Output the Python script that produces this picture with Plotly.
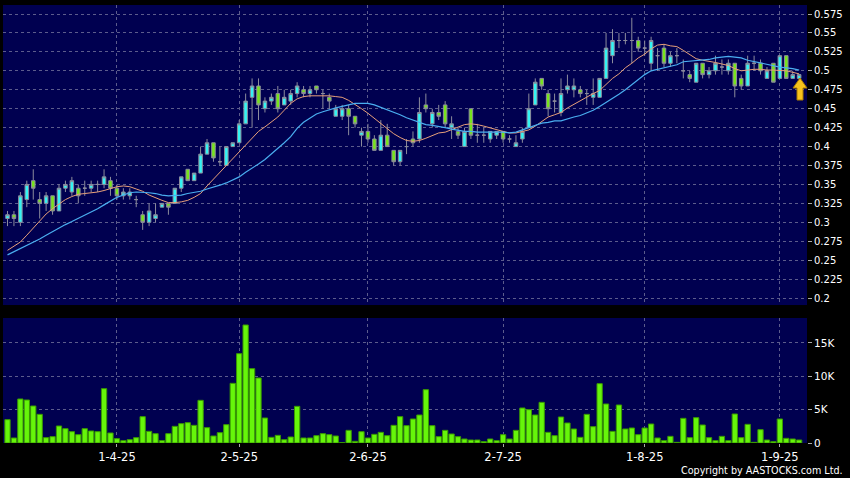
import pandas as pd
import plotly.graph_objects as go

# ---------------- data ----------------
holidays = ["2025-04-04", "2025-04-18", "2025-04-21", "2025-05-01", "2025-05-05", "2025-07-01"]
dates = [d.strftime("%Y-%m-%d") for d in pd.bdate_range("2025-03-07", "2025-09-04")
         if d.strftime("%Y-%m-%d") not in holidays]

opens = [0.305, 0.31, 0.30, 0.33, 0.355, 0.33, 0.325, 0.335, 0.315, 0.345,
         0.34, 0.345, 0.345, 0.345, 0.35, 0.35, 0.355, 0.345, 0.335, 0.335,
         0.33, 0.31, 0.30, 0.305, 0.32, 0.325, 0.325, 0.345, 0.37, 0.355,
         0.365, 0.39, 0.405, 0.38, 0.375, 0.40, 0.405, 0.43, 0.465, 0.48,
         0.45, 0.46, 0.47, 0.455, 0.46, 0.47, 0.475, 0.47, 0.48, 0.47,
         0.465, 0.44, 0.44, 0.45, 0.44, 0.415, 0.42, 0.41, 0.395, 0.415,
         0.395, 0.38, 0.40, 0.41, 0.41, 0.455, 0.43, 0.445, 0.455, 0.425,
         0.42, 0.40, 0.45, 0.415, 0.415, 0.41, 0.415, 0.42, 0.41, 0.40,
         0.41, 0.425, 0.455, 0.49, 0.47, 0.46, 0.445, 0.475, 0.475, 0.475,
         0.47, 0.465, 0.465, 0.49, 0.52, 0.54, 0.54, 0.54, 0.54, 0.53,
         0.51, 0.52, 0.53, 0.51, 0.52, 0.50, 0.495, 0.485, 0.51, 0.495,
         0.50, 0.505, 0.50, 0.51, 0.49, 0.48, 0.51, 0.51, 0.49, 0.51,
         0.49, 0.52, 0.49, 0.49]
highs = [0.315, 0.315, 0.34, 0.355, 0.37, 0.34, 0.34, 0.335, 0.35, 0.355,
         0.36, 0.35, 0.355, 0.355, 0.355, 0.37, 0.36, 0.35, 0.345, 0.345,
         0.335, 0.315, 0.325, 0.325, 0.325, 0.325, 0.345, 0.36, 0.37, 0.365,
         0.40, 0.41, 0.405, 0.40, 0.40, 0.405, 0.435, 0.47, 0.49, 0.49,
         0.465, 0.47, 0.48, 0.475, 0.475, 0.485, 0.48, 0.48, 0.48, 0.475,
         0.47, 0.455, 0.455, 0.455, 0.44, 0.425, 0.43, 0.415, 0.435, 0.43,
         0.395, 0.395, 0.41, 0.42, 0.465, 0.47, 0.45, 0.455, 0.46, 0.44,
         0.425, 0.425, 0.45, 0.43, 0.425, 0.42, 0.42, 0.42, 0.415, 0.415,
         0.425, 0.47, 0.49, 0.49, 0.475, 0.47, 0.49, 0.495, 0.49, 0.48,
         0.475, 0.49, 0.49, 0.55, 0.555, 0.55, 0.55, 0.57, 0.545, 0.54,
         0.545, 0.53, 0.535, 0.525, 0.53, 0.515, 0.50, 0.51, 0.51, 0.505,
         0.52, 0.515, 0.515, 0.51, 0.495, 0.52, 0.52, 0.515, 0.505, 0.51,
         0.52, 0.52, 0.50, 0.495]
lows = [0.295, 0.295, 0.295, 0.32, 0.33, 0.305, 0.315, 0.31, 0.315, 0.34,
        0.335, 0.325, 0.335, 0.34, 0.34, 0.345, 0.335, 0.33, 0.33, 0.33,
        0.32, 0.29, 0.295, 0.30, 0.32, 0.31, 0.325, 0.34, 0.355, 0.355,
        0.365, 0.39, 0.38, 0.375, 0.375, 0.40, 0.405, 0.43, 0.425, 0.435,
        0.445, 0.455, 0.445, 0.455, 0.455, 0.465, 0.465, 0.465, 0.47, 0.45,
        0.45, 0.44, 0.435, 0.415, 0.425, 0.40, 0.405, 0.395, 0.395, 0.40,
        0.375, 0.375, 0.39, 0.40, 0.405, 0.445, 0.425, 0.435, 0.425, 0.41,
        0.41, 0.40, 0.41, 0.405, 0.405, 0.405, 0.41, 0.405, 0.405, 0.40,
        0.405, 0.425, 0.455, 0.475, 0.44, 0.445, 0.44, 0.47, 0.465, 0.465,
        0.455, 0.455, 0.465, 0.49, 0.51, 0.53, 0.535, 0.51, 0.525, 0.52,
        0.50, 0.50, 0.505, 0.505, 0.51, 0.49, 0.485, 0.485, 0.49, 0.49,
        0.495, 0.495, 0.495, 0.465, 0.475, 0.48, 0.50, 0.495, 0.49, 0.485,
        0.49, 0.49, 0.49, 0.49]
closes = [0.31, 0.305, 0.335, 0.35, 0.345, 0.325, 0.335, 0.315, 0.345, 0.35,
          0.355, 0.335, 0.345, 0.35, 0.35, 0.36, 0.345, 0.335, 0.34, 0.34,
          0.33, 0.30, 0.315, 0.31, 0.325, 0.32, 0.345, 0.36, 0.355, 0.365,
          0.39, 0.405, 0.385, 0.38, 0.40, 0.405, 0.43, 0.46, 0.48, 0.455,
          0.46, 0.465, 0.45, 0.465, 0.47, 0.48, 0.47, 0.475, 0.475, 0.47,
          0.46, 0.45, 0.45, 0.44, 0.43, 0.42, 0.41, 0.395, 0.415, 0.40,
          0.38, 0.395, 0.40, 0.405, 0.445, 0.45, 0.445, 0.44, 0.43, 0.43,
          0.415, 0.42, 0.415, 0.415, 0.415, 0.42, 0.42, 0.41, 0.41, 0.405,
          0.42, 0.45, 0.485, 0.48, 0.45, 0.46, 0.47, 0.48, 0.48, 0.47,
          0.47, 0.47, 0.49, 0.53, 0.54, 0.54, 0.54, 0.54, 0.53, 0.53,
          0.54, 0.52, 0.51, 0.52, 0.52, 0.50, 0.49, 0.51, 0.495, 0.50,
          0.51, 0.505, 0.51, 0.48, 0.48, 0.51, 0.51, 0.50, 0.50, 0.485,
          0.52, 0.49, 0.495, 0.495]
volumes = [3500, 750, 6600, 6450, 5550, 4300, 800, 950, 2550, 2150,
           1700, 1250, 2150, 1800, 1700, 8150, 1500, 650, 350, 500,
           800, 3950, 1750, 1400, 350, 1400, 2500, 2900, 3050, 2650,
           6400, 2300, 1050, 1550, 2750, 8950, 13400, 17700, 11150, 9750,
           3750, 850, 1150, 500, 900, 5500, 750, 750, 1100, 1400,
           1250, 1050, 50, 1900, 250, 1700, 750, 1300, 1600, 1100,
           2650, 3950, 2600, 3600, 4200, 8000, 2600, 950, 1900, 1350,
           950, 600, 450, 450, 200, 600, 350, 1250, 600, 1900,
           5250, 5000, 4200, 6100, 1600, 1100, 3900, 3000, 2100, 850,
           4300, 2450, 8900, 5850, 1750, 5700, 2100, 2250, 1250, 2250,
           2850, 750, 350, 1000, 100, 3700, 800, 3800, 2700, 800,
           350, 1000, 350, 4350, 800, 2800, 100, 2000, 450, 200,
           3600, 700, 600, 450]
ma_fast = [0.263, 0.268, 0.274, 0.283, 0.292, 0.302, 0.311, 0.318, 0.324, 0.330,
           0.334, 0.337, 0.338, 0.339, 0.340, 0.342, 0.345, 0.347, 0.348, 0.347,
           0.344, 0.341, 0.336, 0.332, 0.329, 0.326, 0.326, 0.327, 0.329, 0.333,
           0.338, 0.348, 0.357, 0.366, 0.374, 0.383, 0.392, 0.401, 0.410, 0.420,
           0.426, 0.432, 0.439, 0.448, 0.457, 0.463, 0.466, 0.467, 0.467, 0.467,
           0.467, 0.466, 0.465, 0.461, 0.456, 0.450, 0.444, 0.437, 0.430, 0.424,
           0.417, 0.412, 0.408, 0.407, 0.408, 0.411, 0.415, 0.418, 0.419, 0.422,
           0.426, 0.429, 0.430, 0.429, 0.427, 0.425, 0.422, 0.420, 0.418, 0.418,
           0.420, 0.422, 0.427, 0.433, 0.439, 0.442, 0.445, 0.451, 0.456, 0.461,
           0.466, 0.470, 0.474, 0.482, 0.490, 0.496, 0.504, 0.510, 0.517, 0.522,
           0.529, 0.534, 0.535, 0.533, 0.532, 0.527, 0.521, 0.516, 0.514, 0.513,
           0.511, 0.509, 0.507, 0.503, 0.500, 0.501, 0.502, 0.502, 0.501, 0.501,
           0.500, 0.500, 0.498, 0.496]
ma_slow = [0.257, 0.261, 0.265, 0.269, 0.273, 0.278, 0.283, 0.288, 0.292, 0.297,
           0.301, 0.305, 0.309, 0.314, 0.318, 0.323, 0.328, 0.333, 0.336, 0.339,
           0.340, 0.340, 0.339, 0.338, 0.336, 0.335, 0.335, 0.336, 0.338, 0.339,
           0.341, 0.344, 0.346, 0.349, 0.352, 0.356, 0.360, 0.366, 0.371, 0.377,
           0.383, 0.390, 0.397, 0.405, 0.413, 0.424, 0.432, 0.438, 0.443, 0.446,
           0.449, 0.451, 0.453, 0.455, 0.457, 0.457, 0.457, 0.455, 0.452, 0.448,
           0.445, 0.442, 0.438, 0.435, 0.432, 0.429, 0.428, 0.427, 0.425, 0.423,
           0.421, 0.420, 0.420, 0.419, 0.419, 0.419, 0.419, 0.419, 0.418, 0.419,
           0.422, 0.425, 0.429, 0.431, 0.432, 0.434, 0.434, 0.437, 0.439, 0.441,
           0.444, 0.448, 0.453, 0.458, 0.463, 0.469, 0.475, 0.482, 0.489, 0.495,
           0.500, 0.502, 0.504, 0.505, 0.508, 0.512, 0.513, 0.514, 0.514, 0.515,
           0.517, 0.518, 0.519, 0.518, 0.517, 0.514, 0.512, 0.510, 0.508, 0.507,
           0.505, 0.504, 0.503, 0.501]

tick_dates = ["2025-04-01", "2025-05-02", "2025-06-02", "2025-07-02", "2025-08-01", "2025-09-01"]
tick_labels = ["1-4-25", "2-5-25", "2-6-25", "2-7-25", "1-8-25", "1-9-25"]
price_ticks = [0.2, 0.225, 0.25, 0.275, 0.3, 0.325, 0.35, 0.375, 0.4, 0.425,
               0.45, 0.475, 0.5, 0.525, 0.55, 0.575]
price_tick_labels = ["0.2", "0.225", "0.25", "0.275", "0.3", "0.325", "0.35", "0.375", "0.4",
                     "0.425", "0.45", "0.475", "0.5", "0.525", "0.55", "0.575"]
vol_ticks = [0, 5000, 10000, 15000]
vol_tick_labels = ["0", "5K", "10K", "15K"]

# ---------------- style ----------------
BG = "#000000"
PLOT_BG = "#000050"
GRID = "#5c5c8c"
TXT = "#ffffff"
FONT = "DejaVu Sans"

fig = go.Figure()
fig.add_trace(go.Candlestick(
    x=dates, open=opens, high=highs, low=lows, close=closes,
    xaxis="x", yaxis="y", whiskerwidth=0, showlegend=False, hoverinfo="skip",
    increasing=dict(fillcolor="#33f4f4", line=dict(color="#8c8c9c", width=1)),
    decreasing=dict(fillcolor="#77e41c", line=dict(color="#8c8c9c", width=1)),
))
fig.add_trace(go.Scatter(x=dates, y=ma_fast, mode="lines", xaxis="x", yaxis="y",
                         line=dict(color="#e8a07a", width=1), showlegend=False, hoverinfo="skip"))
fig.add_trace(go.Scatter(x=dates, y=ma_slow, mode="lines", xaxis="x", yaxis="y",
                         line=dict(color="#4aaef0", width=1.2), showlegend=False, hoverinfo="skip"))
fig.add_trace(go.Bar(x=dates, y=volumes, xaxis="x2", yaxis="y2", showlegend=False,
                     marker=dict(color="#66f50a", line=dict(color="#3a9a00", width=1)),
                     hoverinfo="skip"))

# current price arrow marker (decoration)
L, R = 3, 807
def px(xp):
    return (xp - L) / (R - L)
def py(yp):
    return 0.575 - (yp - 14) / 757.3
arrow = (f"M {px(800)} {py(78)} L {px(807)} {py(88)} L {px(803)} {py(88)} "
         f"L {px(803)} {py(100)} L {px(797)} {py(100)} L {px(797)} {py(88)} "
         f"L {px(793)} {py(88)} Z")

axis_common = dict(showline=False, zeroline=False, gridcolor=GRID, griddash="3px,3px",
                   gridwidth=1)

fig.update_layout(
    width=850, height=478,
    paper_bgcolor=BG, plot_bgcolor=PLOT_BG,
    margin=dict(l=L, r=850 - R, t=5, b=35),
    font=dict(family=FONT, color=TXT, size=10),
    bargap=0.18, boxgap=0.22,
    hovermode=False, dragmode=False,
    xaxis=dict(domain=[0, 1], anchor="y", type="category", range=[-0.7, 124.22],
               tickvals=tick_dates, showticklabels=False, ticks="",
               rangeslider=dict(visible=False), showgrid=True, **axis_common),
    xaxis2=dict(domain=[0, 1], anchor="y2", type="category", matches="x",
                tickvals=tick_dates, ticktext=tick_labels, ticks="outside", ticklen=3,
                tickcolor="#aaaaaa", tickfont=dict(size=11.5, color=TXT, family=FONT),
                showgrid=True, **axis_common),
    yaxis=dict(domain=[0.315, 1], anchor="x", side="right", range=[0.1908, 0.5869],
               tickvals=price_ticks, ticktext=price_tick_labels, ticks="outside", ticklen=4,
               tickcolor="#aaaaaa", tickfont=dict(size=10, color=TXT, family=FONT),
               showgrid=True, **axis_common),
    yaxis2=dict(domain=[0, 0.2854], anchor="x2", side="right", range=[0, 18750],
                tickvals=vol_ticks, ticktext=vol_tick_labels, ticks="outside", ticklen=4,
                tickcolor="#aaaaaa", tickfont=dict(size=10.5, color=TXT, family=FONT),
                showgrid=True, **axis_common),
    shapes=[dict(type="path", xref="paper", yref="y", path=arrow,
                 fillcolor="#f6c21c", line=dict(color="#a87a00", width=1))],
    annotations=[dict(text="Copyright by AASTOCKS.com Ltd.", xref="paper", yref="paper",
                      x=(845 - L) / (R - L), y=-(470 - 443) / 438, xanchor="right",
                      yanchor="middle", showarrow=False,
                      font=dict(size=9.6, color=TXT, family=FONT))],
)

fig.write_html("out.html", config={"displayModeBar": False, "staticPlot": True},
               post_script="document.body.style.margin='0';document.body.style.background='#000';")
